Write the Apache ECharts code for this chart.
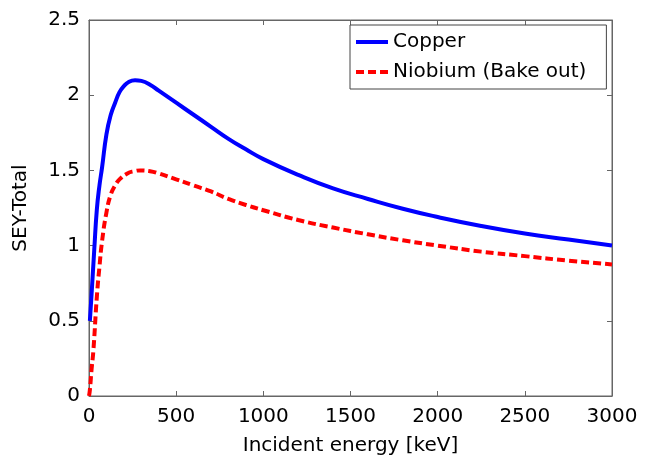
<!DOCTYPE html>
<html>
<head>
<meta charset="utf-8">
<script src="https://cdn.jsdelivr.net/npm/echarts@6/dist/echarts.min.js"></script>
<style>
  html, body { margin: 0; padding: 0; background: #fff; }
  #sey_chart { width: 650px; height: 460px; }
</style>
</head>
<body>
<div id="sey_chart"></div>
<script>
// energies in keV
var copper_energy = [5, 15, 30, 45, 60, 75, 100, 125, 150, 175, 200, 230, 264, 300, 350, 400, 450, 500, 600, 700, 800, 900, 1000, 1200, 1400, 1600, 1800, 2000, 2250, 2500, 2750, 3000];
var copper_sey    = [0.5, 0.68, 0.97, 1.24, 1.40, 1.52, 1.74, 1.87, 1.95, 2.02, 2.06, 2.09, 2.10, 2.095, 2.07, 2.03, 1.99, 1.95, 1.87, 1.79, 1.71, 1.64, 1.575, 1.47, 1.38, 1.31, 1.245, 1.19, 1.13, 1.08, 1.04, 1.0];
var niobium_energy = [0, 5, 15, 25, 45, 60, 75, 100, 125, 150, 175, 220, 260, 293, 350, 400, 500, 600, 700, 800, 900, 1000, 1200, 1400, 1600, 1800, 2000, 2250, 2500, 2750, 3000];
var niobium_sey    = [0, 0.04, 0.18, 0.30, 0.66, 0.86, 1.03, 1.22, 1.34, 1.40, 1.44, 1.48, 1.495, 1.50, 1.495, 1.48, 1.44, 1.40, 1.36, 1.31, 1.27, 1.235, 1.17, 1.12, 1.075, 1.035, 1.0, 0.96, 0.93, 0.90, 0.875];
var series_names = ['Copper', 'Niobium (Bake out)'];

function pairs(xs, ys) {
  var out = [];
  for (var i = 0; i < xs.length; i++) out.push([xs[i], ys[i]]);
  return out;
}

var myChart = echarts.init(document.getElementById('sey_chart'));
var font = 'DejaVu Sans, sans-serif';
var axisColor = '#666';

function frameAxis(pos, max, step) {
  return {
    type: 'value', min: 0, max: max, interval: step, position: pos,
    axisLine: { show: true, onZero: false, lineStyle: { color: axisColor } },
    axisTick: { inside: true, length: 5, lineStyle: { color: axisColor } },
    axisLabel: { show: false }, splitLine: { show: false }
  };
}

var option = {
  animation: false,
  grid: {
    left: 89, right: 38, top: 20, bottom: 64,
    outerBoundsMode: 'none', containLabel: false,
    show: true, borderColor: axisColor, borderWidth: 1
  },
  legend: {
    data: [
      { name: series_names[0], icon: 'rect' },
      { name: series_names[1], icon: 'path://M0,0h8v4h-8z M12,0h8v4h-8z M24,0h8v4h-8z' }
    ],
    orient: 'vertical',
    left: 350, top: 25,
    padding: [6, 20, 6, 6],
    itemGap: 8,
    itemWidth: 32, itemHeight: 4,
    backgroundColor: '#fff',
    borderColor: '#444', borderWidth: 1, borderRadius: 0,
    textStyle: { fontFamily: font, fontSize: 20, color: '#000', lineHeight: 22 }
  },
  xAxis: [
    {
      type: 'value', min: 0, max: 3000, interval: 500,
      name: 'Incident energy [keV]', nameLocation: 'middle', nameGap: 40,
      nameTextStyle: { fontFamily: font, fontSize: 20, color: '#000' },
      axisLine: { show: true, onZero: false, lineStyle: { color: axisColor } },
      axisTick: { inside: true, length: 5, lineStyle: { color: axisColor } },
      axisLabel: { fontFamily: font, fontSize: 20, color: '#000', margin: 11,
        formatter: function (v) { return String(v); } },
      splitLine: { show: false }
    },
    frameAxis('top', 3000, 500)
  ],
  yAxis: [
    {
      type: 'value', min: 0, max: 2.5, interval: 0.5,
      name: 'SEY-Total', nameLocation: 'middle', nameGap: 58,
      nameTextStyle: { fontFamily: font, fontSize: 20, color: '#000' },
      axisLine: { show: true, onZero: false, lineStyle: { color: axisColor } },
      axisTick: { inside: true, length: 5, lineStyle: { color: axisColor } },
      axisLabel: { fontFamily: font, fontSize: 20, color: '#000', margin: 9 },
      splitLine: { show: false }
    },
    frameAxis('right', 2.5, 0.5)
  ],
  series: [
    {
      name: series_names[0], type: 'line',
      data: pairs(copper_energy, copper_sey),
      symbol: 'none', smooth: 0.5,
      lineStyle: { color: '#0000ff', width: 4 },
      itemStyle: { color: '#0000ff' }
    },
    {
      name: series_names[1], type: 'line',
      data: pairs(niobium_energy, niobium_sey),
      symbol: 'none', smooth: 0.5,
      lineStyle: { color: '#ff0000', width: 4, type: [8, 4] },
      itemStyle: { color: '#ff0000' }
    },
    {
      // empty series so the top/right frame axes are drawn
      type: 'line', xAxisIndex: 1, yAxisIndex: 1, data: [], symbol: 'none', silent: true
    }
  ]
};
myChart.setOption(option);
</script>
</body>
</html>
